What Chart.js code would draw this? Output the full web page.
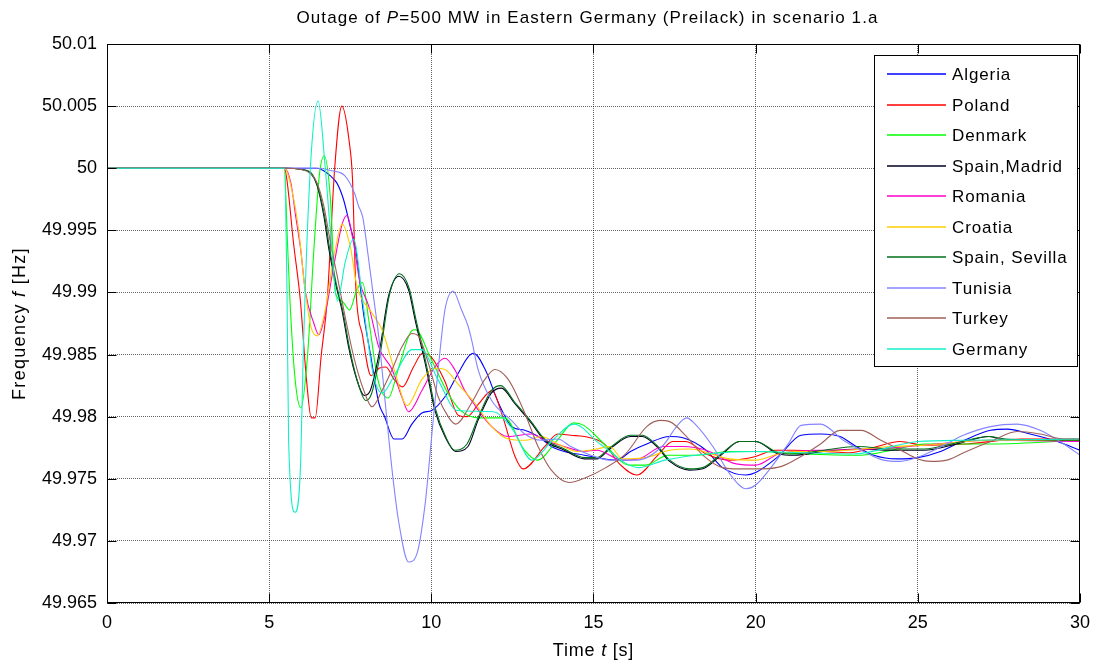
<!DOCTYPE html>
<html>
<head>
<meta charset="utf-8">
<script src="https://cdn.jsdelivr.net/npm/chart.js@4.4.1/dist/chart.umd.min.js"></script>
<style>
    html, body { margin: 0; padding: 0; background: #fff; }
    #wrap { width: 1099px; height: 664px; position: relative; }
</style>
</head>
<body>
<div id="wrap"><canvas id="freqChart"></canvas></div>
<script>
const xTicks = [0, 5, 10, 15, 20, 25, 30];
const yTicks = [49.965, 49.97, 49.975, 49.98, 49.985, 49.99, 49.995, 50, 50.005, 50.01];

const countries = ["Algeria", "Poland", "Denmark", "Spain,Madrid", "Romania", "Croatia", "Spain, Sevilla", "Tunisia", "Turkey", "Germany"];
const colors = ["#0000ff", "#ff0000", "#00ff00", "#000022", "#ff00cc", "#ffcc00", "#006f1a", "#8484ff", "#a0605a", "#10f0c8"];

// [time s, frequency Hz]
const algeria = [[0,50],[5.47,50],[6.48,50.0],[6.68,49.9998],[6.88,49.9994],[7.09,49.9988],[7.29,49.9975],[7.5,49.9953],[7.67,49.9935],[7.9,49.9885],[8.15,49.9846],[8.38,49.9811],[8.56,49.98],[8.85,49.9782],[9.1,49.9782],[9.4,49.9794],[9.71,49.9803],[10.01,49.9805],[10.42,49.9816],[10.83,49.9835],[11.13,49.9848],[11.3,49.9851],[11.66,49.9838],[12.07,49.9811],[12.48,49.9792],[12.88,49.9789],[13.3,49.9784],[13.7,49.9776],[14.1,49.9772],[14.72,49.9769],[15.33,49.9766],[15.72,49.9765],[16.14,49.9772],[16.64,49.9778],[17.35,49.9784],[17.76,49.9783],[18.47,49.9773],[18.98,49.9759],[19.7,49.9753],[20.0,49.9755],[20.7,49.9768],[21.4,49.9785],[22.0,49.9786],[22.6,49.9784],[23.1,49.9776],[23.64,49.9769],[24.36,49.9766],[25,49.9767],[25.7,49.9772],[26.43,49.9781],[27.24,49.9789],[27.75,49.979],[28.46,49.9786],[29.3,49.978],[30,49.9773]];
const poland = [[0,50],[5.47,50],[5.55,49.999],[5.75,49.994],[5.96,49.9894],[6.15,49.983],[6.3,49.9799],[6.42,49.9799],[6.6,49.9848],[6.79,49.9894],[7.02,50.0],[7.24,50.005],[7.47,50.0021],[7.57,49.9991],[7.67,49.9905],[7.88,49.9865],[8.14,49.9833],[8.39,49.9839],[8.6,49.984],[8.85,49.983],[9.11,49.9824],[9.45,49.984],[9.73,49.9851],[10.0,49.9848],[10.41,49.9829],[10.84,49.9801],[11.1,49.98],[11.45,49.981],[11.87,49.9821],[12.2,49.98],[12.58,49.9768],[12.83,49.9758],[13.5,49.9776],[13.9,49.9786],[14.3,49.9785],[14.72,49.9784],[15.33,49.9778],[15.8,49.9762],[16.34,49.9753],[16.95,49.9768],[17.45,49.978],[17.85,49.978],[18.47,49.977],[19.2,49.9765],[20,49.9768],[20.6,49.9773],[21.2,49.9773],[22.1,49.9772],[22.9,49.9771],[23.6,49.9775],[24.45,49.978],[25.2,49.9777],[26.5,49.9778],[28.2,49.9782],[30,49.9782]];
const denmark = [[0,50],[5.47,50],[5.55,49.995],[5.64,49.9894],[5.8,49.983],[5.98,49.9807],[6.18,49.9848],[6.38,49.9935],[6.55,49.9995],[6.7,50.001],[6.89,49.9975],[7.04,49.990],[7.25,49.9893],[7.48,49.9886],[7.7,49.9902],[7.88,49.9908],[8.07,49.9878],[8.35,49.983],[8.67,49.9815],[9.0,49.984],[9.39,49.9869],[9.5,49.987],[10.0,49.9846],[10.51,49.9819],[10.9,49.9805],[11.44,49.9799],[12.26,49.9799],[12.87,49.9773],[13.27,49.9765],[13.88,49.9781],[14.39,49.9795],[14.7,49.9793],[15.33,49.9778],[16.1,49.9761],[16.6,49.9761],[17.3,49.9769],[18.2,49.9769],[19.2,49.9772],[20,49.9772],[21.5,49.977],[23.2,49.9769],[24.2,49.9773],[25.2,49.9778],[27.3,49.9778],[30,49.9781]];
const madrid = [[0,50],[5.47,50],[6.0,49.9999],[6.28,49.9996],[6.48,49.9986],[6.69,49.9961],[6.84,49.9935],[7.04,49.9908],[7.25,49.9885],[7.45,49.9856],[7.7,49.983],[7.93,49.9817],[8.1,49.982],[8.39,49.9851],[8.68,49.9897],[9.0,49.9913],[9.3,49.9902],[9.5,49.9878],[9.81,49.9843],[10.11,49.9805],[10.42,49.9784],[10.75,49.9772],[11.13,49.9776],[11.44,49.9797],[11.85,49.9819],[12.16,49.9823],[12.56,49.9811],[13.08,49.9795],[13.49,49.9781],[14.1,49.9773],[14.72,49.9766],[15.1,49.9766],[15.5,49.9774],[16.14,49.9784],[16.5,49.9784],[16.95,49.9776],[17.35,49.9764],[17.96,49.9757],[18.37,49.9758],[18.98,49.977],[19.5,49.978],[20.0,49.978],[20.7,49.977],[21.2,49.9769],[22.1,49.9772],[23.15,49.9774],[24.2,49.9773],[25.2,49.9773],[26.2,49.9778],[27.2,49.9784],[27.7,49.9781],[30,49.9781]];
const romania = [[0,50],[5.47,50],[5.67,49.9988],[5.82,49.9961],[5.97,49.9935],[6.12,49.990],[6.38,49.9875],[6.53,49.9866],[6.73,49.9883],[6.99,49.9921],[7.25,49.9955],[7.4,49.9962],[7.6,49.994],[7.8,49.9908],[8.07,49.9889],[8.38,49.9856],[8.79,49.9838],[9.09,49.9816],[9.3,49.9804],[9.71,49.9821],[10.11,49.984],[10.42,49.9847],[10.72,49.9838],[11.03,49.9821],[11.24,49.9813],[11.86,49.9792],[12.37,49.9784],[13.08,49.9786],[13.5,49.9781],[14.1,49.9776],[14.7,49.9772],[15.1,49.9773],[15.9,49.9765],[16.4,49.9766],[17.15,49.9776],[17.76,49.9776],[18.47,49.9773],[19.4,49.9762],[20,49.9761],[20.7,49.977],[21.2,49.9772],[22.1,49.9773],[23.6,49.9774],[25.2,49.9777],[27.2,49.9781],[30,49.978]];
const croatia = [[0,50],[5.47,50],[5.72,49.998],[5.92,49.9948],[6.08,49.9908],[6.28,49.9873],[6.48,49.9865],[6.69,49.9881],[7.04,49.9935],[7.25,49.9955],[7.5,49.9937],[7.7,49.9906],[8.18,49.9883],[8.48,49.987],[8.89,49.9835],[9.25,49.9809],[9.71,49.983],[10.11,49.9839],[10.42,49.9838],[10.83,49.9826],[11.34,49.9811],[11.86,49.9792],[12.37,49.9782],[12.88,49.9781],[13.39,49.9784],[13.9,49.9778],[14.5,49.9772],[15.1,49.9774],[15.5,49.9776],[15.9,49.9766],[16.6,49.9767],[17.35,49.9773],[17.96,49.9774],[19.2,49.9766],[20,49.9765],[20.7,49.977],[21.2,49.9772],[22.1,49.9772],[24.2,49.9776],[25.2,49.9777],[27.2,49.9781],[30,49.9781]];
const sevilla = [[0,50],[5.47,50],[6.0,49.9999],[6.3,49.9996],[6.5,49.9985],[6.72,49.996],[6.87,49.9934],[7.07,49.9907],[7.28,49.9884],[7.48,49.9855],[7.73,49.9828],[7.98,49.9813],[8.15,49.9818],[8.42,49.985],[8.7,49.9897],[9.02,49.9915],[9.32,49.9903],[9.52,49.9879],[9.83,49.9844],[10.13,49.9806],[10.44,49.9784],[10.72,49.9773],[11.1,49.9778],[11.44,49.9799],[11.85,49.9821],[12.14,49.9825],[12.56,49.9812],[13.08,49.9796],[13.49,49.9782],[14.1,49.9774],[14.72,49.9767],[15.1,49.9767],[15.5,49.9775],[16.14,49.9785],[16.5,49.9785],[16.95,49.9777],[17.35,49.9765],[17.96,49.9758],[18.37,49.9759],[18.98,49.9771],[19.5,49.978],[20.0,49.978],[20.7,49.9771],[21.2,49.977],[22.1,49.9773],[23.15,49.9776],[24.2,49.9774],[25.2,49.9774],[26.2,49.9779],[27.2,49.9784],[27.7,49.9782],[30,49.9781]];
const tunisia = [[0,50],[5.47,50],[6.5,50],[6.93,49.9998],[7.33,49.9994],[7.63,49.998],[7.75,49.997],[7.89,49.996],[8.05,49.993],[8.2,49.990],[8.38,49.9864],[8.58,49.9811],[8.79,49.9757],[8.99,49.9716],[9.3,49.9683],[9.56,49.969],[9.81,49.973],[10.01,49.9784],[10.21,49.9838],[10.42,49.9886],[10.67,49.9901],[10.93,49.9886],[11.13,49.9873],[11.24,49.9862],[11.44,49.9838],[11.86,49.9813],[12.47,49.9797],[12.88,49.9786],[13.39,49.9781],[13.9,49.9782],[14.3,49.9776],[14.92,49.9769],[15.5,49.9765],[16.33,49.9765],[17.15,49.9777],[17.56,49.9792],[17.87,49.9799],[18.17,49.9793],[18.68,49.9776],[19.2,49.9754],[19.7,49.9742],[20,49.9745],[20.5,49.976],[21.0,49.9778],[21.4,49.9793],[22.0,49.9794],[22.7,49.9781],[23.33,49.9772],[23.94,49.9765],[24.45,49.9764],[25.06,49.9768],[25.8,49.9777],[26.4,49.9785],[27.24,49.9792],[28.06,49.9794],[28.77,49.9789],[29.5,49.9778],[30,49.9769]];
const turkey = [[0,50],[5.47,50],[6.0,49.9999],[6.3,49.9995],[6.48,49.9988],[6.69,49.9969],[6.89,49.994],[7.1,49.9913],[7.3,49.9886],[7.61,49.9848],[7.92,49.9821],[8.17,49.9808],[8.48,49.9821],[8.79,49.9838],[9.09,49.9856],[9.4,49.9867],[9.6,49.9865],[9.91,49.9843],[10.21,49.9816],[10.52,49.98],[10.75,49.9794],[11.24,49.9811],[11.65,49.983],[11.96,49.9838],[12.37,49.983],[12.88,49.9803],[13.29,49.9776],[13.7,49.9757],[14.25,49.9747],[14.77,49.9751],[15.38,49.9759],[15.99,49.977],[16.64,49.9792],[17.05,49.9797],[17.35,49.9796],[17.87,49.9784],[18.37,49.9769],[18.98,49.9759],[19.49,49.9758],[20.2,49.9758],[20.8,49.976],[21.4,49.9768],[22.0,49.9778],[22.6,49.9789],[23.25,49.9789],[23.86,49.9781],[24.47,49.9773],[25.0,49.9766],[25.4,49.9764],[25.9,49.9765],[26.5,49.9772],[27.24,49.978],[28.06,49.9788],[28.77,49.9786],[29.5,49.9782],[30,49.9782]];
const germany = [[0,50],[5.47,50],[5.55,49.990],[5.6,49.978],[5.8,49.9723],[5.97,49.9762],[6.05,49.985],[6.27,50.0],[6.51,50.0054],[6.73,50.0],[6.9,49.9945],[7.1,49.9893],[7.35,49.9925],[7.6,49.9943],[7.9,49.989],[8.2,49.9835],[8.48,49.9819],[8.9,49.9835],[9.4,49.9854],[9.7,49.9854],[10.2,49.983],[10.8,49.9805],[11.9,49.9804],[12.5,49.979],[13.1,49.9765],[13.7,49.978],[14.4,49.9794],[15.2,49.9778],[16.4,49.9759],[17.2,49.9765],[18.5,49.977],[20,49.9772],[21.5,49.9771],[23,49.977],[25,49.978],[26.5,49.9781],[30,49.9782]];

const seriesList = [algeria, poland, denmark, madrid, romania, croatia, sevilla, tunisia, turkey, germany];

const FONT = "'Liberation Sans', Arial, sans-serif";

function drawParts(ctx, parts, x, y, size, spacing) {
    // parts: [text, italic]; centred on x
    ctx.letterSpacing = spacing + "px";
    let total = 0;
    for (let [txt, it] of parts) {
        ctx.font = (it ? "italic " : "") + size + "px " + FONT;
        total += ctx.measureText(txt).width;
    }
    let cx = x - total / 2;
    for (let [txt, it] of parts) {
        ctx.font = (it ? "italic " : "") + size + "px " + FONT;
        ctx.fillText(txt, cx, y);
        cx += ctx.measureText(txt).width;
    }
    ctx.letterSpacing = "0px";
}

const framePlugin = {
    id: "frame",
    afterDraw(chart) {
        const { ctx, chartArea: a, scales } = chart;
        ctx.save();
        ctx.strokeStyle = "#000";
        ctx.lineWidth = 1;
        let L = Math.round(a.left) + 0.5, R = Math.round(a.right) - 0.5;
        let T = Math.round(a.top) + 0.5, B = Math.round(a.bottom) - 0.5;
        ctx.strokeRect(L, T, R - L, B - T);

        // inward tick marks on all four sides
        ctx.beginPath();
        for (let t of xTicks) {
            let px = Math.round(scales.x.getPixelForValue(t)) + 0.5;
            ctx.moveTo(px, B); ctx.lineTo(px, B - 9);
            ctx.moveTo(px, T); ctx.lineTo(px, T + 9);
        }
        for (let v of yTicks) {
            let py = Math.round(scales.y.getPixelForValue(v)) + 0.5;
            ctx.moveTo(L, py); ctx.lineTo(L + 9, py);
            ctx.moveTo(R, py); ctx.lineTo(R - 9, py);
        }
        ctx.stroke();

        // legend box
        const lx = 874.5, ly = 55.5, lw = 203, lh = 311;
        ctx.fillStyle = "#fff";
        ctx.fillRect(lx, ly, lw, lh);
        ctx.strokeRect(lx, ly, lw, lh);
        ctx.font = "17px " + FONT;
        ctx.letterSpacing = "0.9px";
        ctx.textBaseline = "middle";
        ctx.textAlign = "left";
        countries.forEach((name, i) => {
            let y = Math.round(74 + i * 30.5);
            ctx.strokeStyle = colors[i];
            ctx.lineWidth = 1.6;
            ctx.beginPath();
            ctx.moveTo(887, y);
            ctx.lineTo(946, y);
            ctx.stroke();
            ctx.fillStyle = "#000";
            ctx.fillText(name, 952, y + 1);
        });
        ctx.letterSpacing = "0px";

        // title and axis labels with italic symbols
        ctx.fillStyle = "#000";
        ctx.textAlign = "left";
        ctx.textBaseline = "middle";
        const cx = (a.left + a.right) / 2;
        drawParts(ctx, [["Outage of ", false], ["P", true], ["=500 MW in Eastern Germany (Preilack) in scenario 1.a", false]], cx - 6, 18, 17, 1.1);
        drawParts(ctx, [["Time ", false], ["t", true], [" [s]", false]], cx, 651, 18, 0.8);
        ctx.translate(20, (a.top + a.bottom) / 2);
        ctx.rotate(-Math.PI / 2);
        drawParts(ctx, [["Frequency ", false], ["f", true], [" [Hz]", false]], 0, 0, 18, 1.3);
        ctx.restore();
    }
};

const datasets = seriesList.map((s, i) => ({
    label: countries[i],
    data: s.map(p => ({ x: p[0], y: p[1] })),
    borderColor: colors[i],
    borderWidth: 1.1,
    pointRadius: 0,
    fill: false,
    cubicInterpolationMode: "monotone",
    order: countries.length - i
}));

const gridColor = "rgba(0,0,0,0.6)";

new Chart(document.getElementById("freqChart"), {
    type: "line",
    data: { datasets },
    options: {
        responsive: true,
        maintainAspectRatio: false,
        animation: false,
        layout: { padding: { left: 0, right: 12, top: 44, bottom: 0 } },
        plugins: { legend: { display: false }, title: { display: false }, tooltip: { enabled: false } },
        scales: {
            x: {
                type: "linear",
                min: 0,
                max: 30,
                afterFit: scale => { scale.height = 61; },
                afterBuildTicks: scale => { scale.ticks = xTicks.map(v => ({ value: v })); },
                border: { display: false, dash: [1, 1] },
                grid: { color: gridColor, drawTicks: false },
                ticks: { color: "#000", font: { size: 18, family: FONT }, padding: 9, maxRotation: 0 }
            },
            y: {
                type: "linear",
                min: 49.965,
                max: 50.01,
                afterFit: scale => { scale.width = 107; },
                afterBuildTicks: scale => { scale.ticks = yTicks.map(v => ({ value: v })); },
                border: { display: false, dash: [1, 1] },
                grid: { color: gridColor, drawTicks: false },
                ticks: {
                    color: "#000",
                    font: { size: 18, family: FONT },
                    padding: 10,
                    callback: v => String(parseFloat(v.toFixed(3)))
                }
            }
        }
    },
    plugins: [framePlugin]
});
</script>
</body>
</html>
